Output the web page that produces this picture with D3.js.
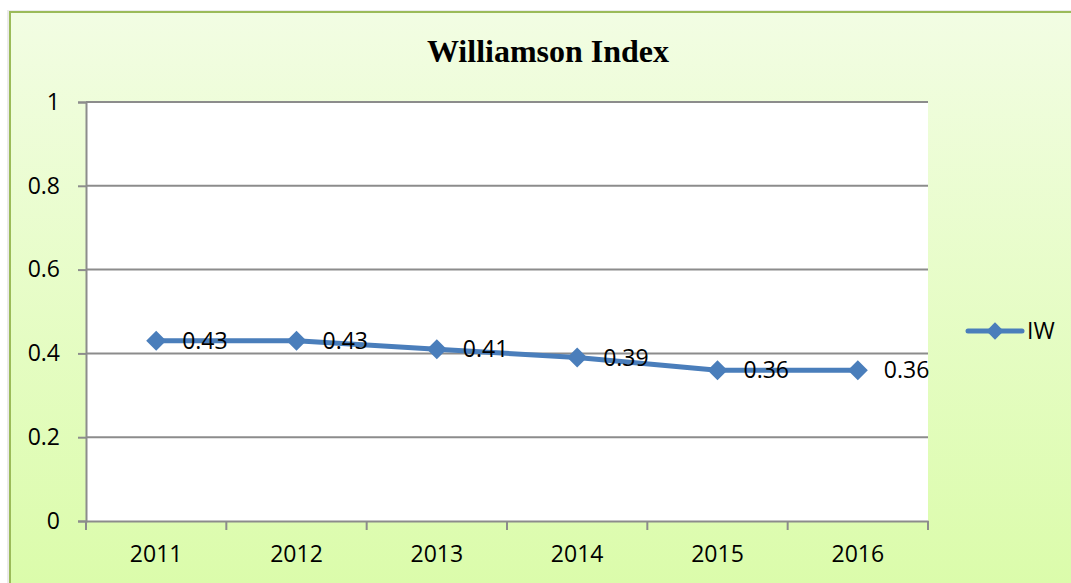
<!DOCTYPE html>
<html><head><meta charset="utf-8">
<script src="https://cdn.jsdelivr.net/npm/d3@7"></script>
<style>html,body{margin:0;padding:0;background:#fff;overflow:hidden}</style>
</head><body>
<svg id="chart" width="1071" height="583" style="display:block"></svg>
<script>
const categories = ["2011","2012","2013","2014","2015","2016"];
const seriesName = "IW";
const values = [0.43, 0.43, 0.41, 0.39, 0.36, 0.36];
const yTicks = [0, 0.2, 0.4, 0.6, 0.8, 1];
const title = "Williamson Index";

const svg = d3.select("#chart");
const plot = {left: 86, right: 928, top: 102, bottom: 521};
const blue = "#4a7ebb";
const labelFont = "'Open Sans', sans-serif";
const fs = 23;

const defs = svg.append("defs");
const grad = defs.append("linearGradient").attr("id","bg").attr("x1",0).attr("y1",0).attr("x2",0).attr("y2",1);
grad.append("stop").attr("offset","0%").attr("stop-color","#f2fde3");
grad.append("stop").attr("offset","100%").attr("stop-color","#dafca8");

// chart area
svg.append("rect").attr("x",7).attr("y",10).attr("width",1090).attr("height",600)
  .attr("fill","#d8d8d8").attr("opacity",0.5);
svg.append("rect").attr("x",10).attr("y",12).attr("width",1080).attr("height",600)
  .attr("fill","url(#bg)").attr("stroke","#9bbb59").attr("stroke-width",2);

// title
svg.append("text").attr("x",548).attr("y",62).attr("text-anchor","middle")
  .attr("font-family","'Liberation Serif','Times New Roman',serif").attr("font-weight","bold")
  .attr("font-size",32).attr("fill","#000").text(title);

const x = d3.scaleBand().domain(categories).range([plot.left, plot.right]).padding(0);
const y = d3.scaleLinear().domain([0,1]).range([plot.bottom, plot.top]);

// plot area
svg.append("rect").attr("x",plot.left).attr("y",plot.top)
  .attr("width",plot.right-plot.left).attr("height",plot.bottom-plot.top).attr("fill","#fff");

// gridlines
svg.append("g").selectAll("line").data(yTicks.filter(d=>d>0)).join("line")
  .attr("x1",plot.left).attr("x2",plot.right)
  .attr("y1",d=>y(d)).attr("y2",d=>y(d))
  .attr("stroke","#8c8c8c").attr("stroke-width",2);

// y axis
const yAxis = svg.append("g").attr("transform",`translate(${plot.left},0)`)
  .call(d3.axisLeft(y).tickValues(yTicks).tickSize(8).tickPadding(18).tickFormat(d3.format("")));
yAxis.select(".domain").attr("stroke","#8c8c8c").attr("stroke-width",2);
yAxis.selectAll(".tick line").attr("stroke","#8c8c8c").attr("stroke-width",2);
yAxis.selectAll(".tick text").attr("font-family",labelFont).attr("font-size",fs).attr("fill","#000");

// x axis
const xAxis = svg.append("g").attr("transform",`translate(0,${plot.bottom})`)
  .call(d3.axisBottom(x).tickSize(0).tickPadding(25));
xAxis.select(".domain").attr("stroke","#8c8c8c").attr("stroke-width",2);
xAxis.selectAll(".tick text").attr("font-family",labelFont).attr("font-size",fs).attr("fill","#000");
const bounds = categories.map(c=>x(c)).concat([plot.right]);
xAxis.append("g").selectAll("line").data(bounds).join("line")
  .attr("x1",d=>d).attr("x2",d=>d).attr("y1",0).attr("y2",9)
  .attr("stroke","#8c8c8c").attr("stroke-width",2);

// line
const cx = c => x(c) + x.bandwidth()/2;
const line = d3.line().x((d,i)=>cx(categories[i])).y(d=>y(d));
svg.append("path").datum(values).attr("d",line).attr("fill","none")
  .attr("stroke",blue).attr("stroke-width",5).attr("stroke-linejoin","round").attr("stroke-linecap","round");

svg.append("g").selectAll("path").data(values).join("path")
  .attr("transform",(d,i)=>`translate(${cx(categories[i])},${y(d)}) rotate(45)`)
  .attr("d", d3.symbol().type(d3.symbolSquare).size(200))
  .attr("fill",blue);

// data labels
svg.append("g").selectAll("text").data(values).join("text")
  .attr("x",(d,i)=>cx(categories[i])+26).attr("y",d=>y(d))
  .attr("dy","0.36em")
  .attr("font-family",labelFont).attr("font-size",fs).attr("fill","#000")
  .text(d=>d3.format(".2f")(d));

// legend
const lg = svg.append("g");
lg.append("line").attr("x1",968).attr("x2",1022).attr("y1",331).attr("y2",331)
  .attr("stroke",blue).attr("stroke-width",5).attr("stroke-linecap","round");
lg.append("path").attr("transform","translate(995,331) rotate(45)")
  .attr("d", d3.symbol().type(d3.symbolSquare).size(150)).attr("fill",blue);
lg.append("text").attr("x",1027).attr("y",331).attr("dy","0.36em")
  .attr("font-family",labelFont).attr("font-size",fs).attr("fill","#000").text(seriesName);
</script>
</body></html>
